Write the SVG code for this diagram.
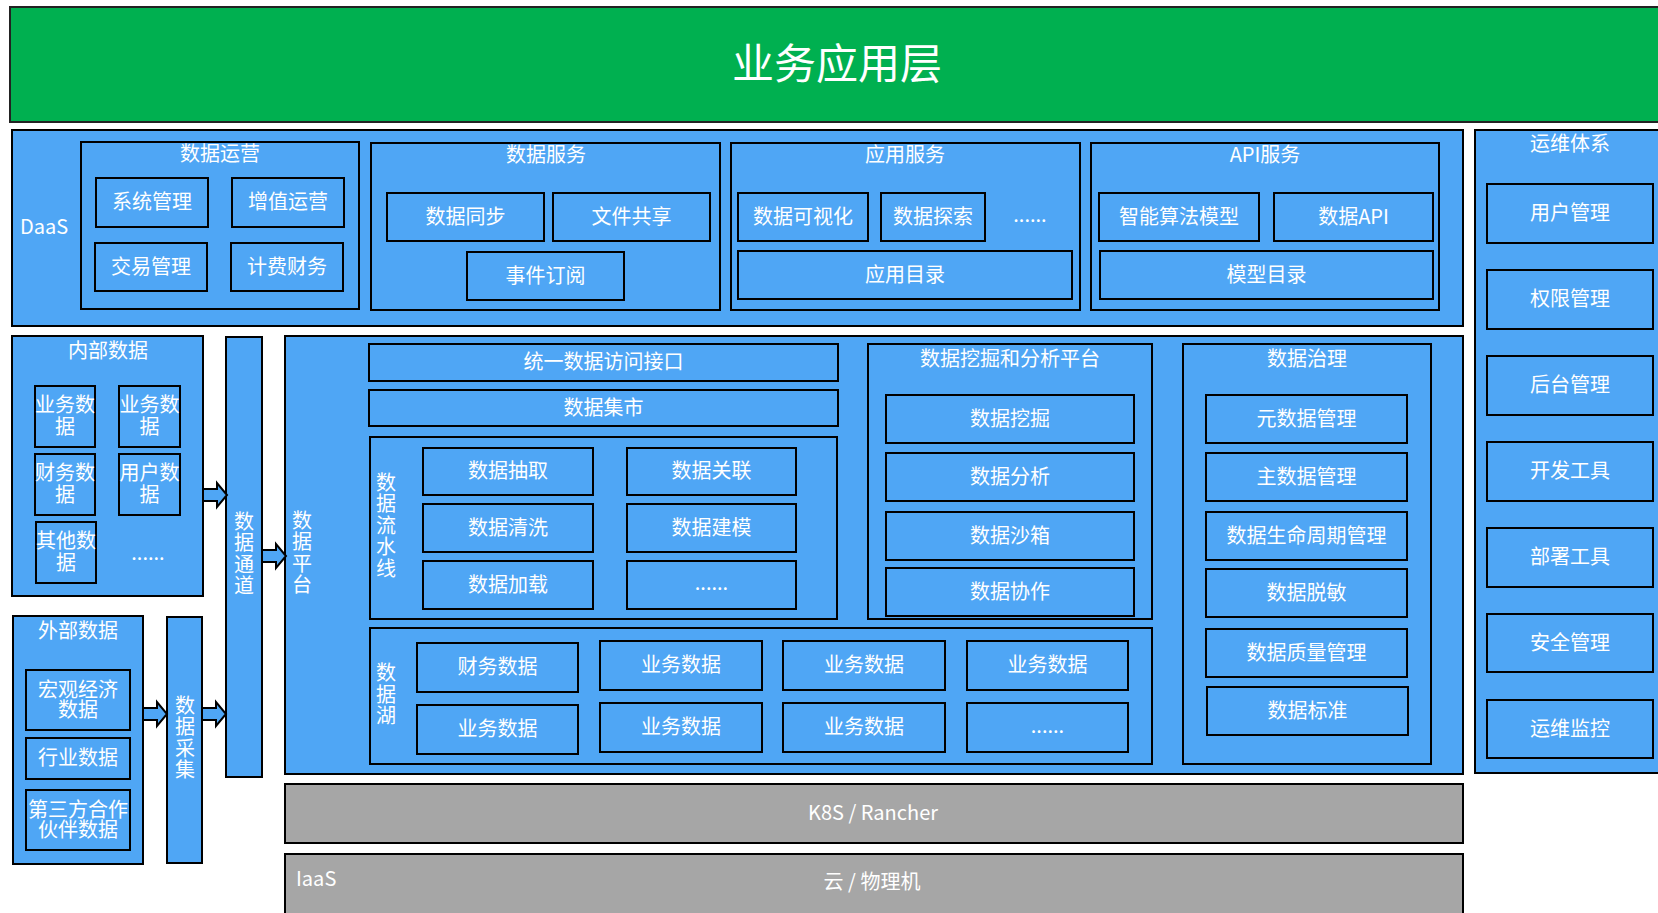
<svg xmlns="http://www.w3.org/2000/svg" width="1658" height="913" viewBox="0 0 1658 913">
<defs>
<style>
.b{fill:#4FA6F5;stroke:#000;stroke-width:2}
.g{fill:#A6A6A6;stroke:#000;stroke-width:2}
.t{fill:#fff;font-family:"Noto Sans CJK SC","Liberation Sans",sans-serif;font-size:20px;text-anchor:middle;dominant-baseline:central}
.l{fill:#fff;font-family:"Noto Sans CJK SC","Liberation Sans",sans-serif;font-size:20px}
.v{fill:#fff;font-family:"Noto Sans CJK SC",sans-serif;font-size:20px;text-anchor:middle;writing-mode:vertical-rl;letter-spacing:1.5px}
.arr{fill:#4FA6F5;stroke:#000;stroke-width:2;stroke-linejoin:miter}
</style>
<path id="arrow" d="M0,-6 H14 V-12 L24,0 L14,12 V6 H0 Z"/>
</defs>
<rect width="1658" height="913" fill="#fff"/>

<g id="app-layer">
<rect x="10" y="7" width="1700" height="115" fill="#00B050" stroke="#222" stroke-width="2"/>
<text x="837" y="60" class="t" style="font-size:42px">业务应用层</text>
</g>

<g id="daas">
<rect class="b" x="12" y="130" width="1451" height="196"/>
<text x="20" y="225" class="l" dominant-baseline="central">DaaS</text>
</g>

<g id="data-ops">
<rect class="b" x="81" y="142" width="278" height="167"/>
<text class="t" x="220" y="152">数据运营</text>
<rect class="b" x="96" y="178" width="112" height="49"/><text class="t" x="152" y="200">系统管理</text>
<rect class="b" x="232" y="178" width="112" height="49"/><text class="t" x="288" y="200">增值运营</text>
<rect class="b" x="95" y="243" width="112" height="48"/><text class="t" x="151" y="265">交易管理</text>
<rect class="b" x="231" y="243" width="112" height="48"/><text class="t" x="287" y="265">计费财务</text>
</g>

<g id="data-service">
<rect class="b" x="371" y="143" width="349" height="167"/>
<text class="t" x="546" y="153">数据服务</text>
<rect class="b" x="387" y="193" width="157" height="48"/><text class="t" x="465.5" y="215">数据同步</text>
<rect class="b" x="553" y="193" width="157" height="48"/><text class="t" x="631.5" y="215">文件共享</text>
<rect class="b" x="467" y="252" width="157" height="48"/><text class="t" x="545.5" y="274">事件订阅</text>
</g>

<g id="app-service">
<rect class="b" x="731" y="143" width="349" height="167"/>
<text class="t" x="905" y="153">应用服务</text>
<rect class="b" x="738" y="193" width="130" height="48"/><text class="t" x="803" y="215">数据可视化</text>
<rect class="b" x="881" y="193" width="104" height="48"/><text class="t" x="933" y="215">数据探索</text>
<text class="l" x="1030" y="222" text-anchor="middle">......</text>
<rect class="b" x="738" y="251" width="334" height="48"/><text class="t" x="905" y="273">应用目录</text>
</g>

<g id="api-service">
<rect class="b" x="1091" y="143" width="348" height="167"/>
<text class="t" x="1265" y="153">API服务</text>
<rect class="b" x="1099" y="193" width="160" height="48"/><text class="t" x="1179" y="215">智能算法模型</text>
<rect class="b" x="1274" y="193" width="159" height="48"/><text class="t" x="1353.5" y="215">数据API</text>
<rect class="b" x="1100" y="251" width="333" height="48"/><text class="t" x="1266.5" y="273">模型目录</text>
</g>

<g id="ops-system">
<rect class="b" x="1475" y="130" width="240" height="643"/>
<text class="t" x="1570" y="142">运维体系</text>
<rect class="b" x="1487" y="184" width="166" height="59"/><text class="t" x="1570" y="211.5">用户管理</text>
<rect class="b" x="1487" y="270" width="166" height="59"/><text class="t" x="1570" y="297.5">权限管理</text>
<rect class="b" x="1487" y="356" width="166" height="59"/><text class="t" x="1570" y="383.5">后台管理</text>
<rect class="b" x="1487" y="442" width="166" height="59"/><text class="t" x="1570" y="469.5">开发工具</text>
<rect class="b" x="1487" y="528" width="166" height="59"/><text class="t" x="1570" y="555.5">部署工具</text>
<rect class="b" x="1487" y="614" width="166" height="58"/><text class="t" x="1570" y="641">安全管理</text>
<rect class="b" x="1487" y="700" width="166" height="58"/><text class="t" x="1570" y="727">运维监控</text>
</g>

<g id="internal-data">
<rect class="b" x="12" y="336" width="191" height="260"/>
<text class="t" x="108" y="349">内部数据</text>
<rect class="b" x="35" y="386" width="60" height="61"/><text class="t" x="65" y="403">业务数<tspan x="65" dy="21.5">据</tspan></text>
<rect class="b" x="119" y="386" width="61" height="61"/><text class="t" x="149.5" y="403">业务数<tspan x="149.5" dy="21.5">据</tspan></text>
<rect class="b" x="35" y="454" width="60" height="61"/><text class="t" x="65" y="471">财务数<tspan x="65" dy="21.5">据</tspan></text>
<rect class="b" x="119" y="454" width="61" height="61"/><text class="t" x="149.5" y="471">用户数<tspan x="149.5" dy="21.5">据</tspan></text>
<rect class="b" x="36" y="522" width="60" height="61"/><text class="t" x="66" y="539">其他数<tspan x="66" dy="21.5">据</tspan></text>
<text class="l" x="148" y="560" text-anchor="middle">......</text>
</g>

<g id="external-data">
<rect class="b" x="13" y="616" width="130" height="248"/>
<text class="t" x="78" y="629">外部数据</text>
<rect class="b" x="26" y="670" width="104" height="60"/><text class="t" x="78" y="688">宏观经济<tspan x="78" dy="20">数据</tspan></text>
<rect class="b" x="26" y="738" width="104" height="41"/><text class="t" x="78" y="756.5">行业数据</text>
<rect class="b" x="26" y="790" width="104" height="60"/><text class="t" x="78" y="808">第三方合作<tspan x="78" dy="20">伙伴数据</tspan></text>
</g>

<g id="data-collect">
<rect class="b" x="167" y="617" width="35" height="246"/>
<text class="v" x="185" y="738">数据采集</text>
</g>

<g id="data-channel">
<rect class="b" x="226" y="337" width="36" height="440"/>
<text class="v" x="244" y="554">数据通道</text>
</g>

<g id="data-platform">
<rect class="b" x="285" y="336" width="1178" height="438"/>
<text class="v" x="302" y="553">数据平台</text>
</g>

<g id="unified-access">
<rect class="b" x="369" y="344" width="469" height="37"/><text class="t" x="603.5" y="360">统一数据访问接口</text>
</g>
<g id="data-mart">
<rect class="b" x="369" y="390" width="469" height="36"/><text class="t" x="603.5" y="406">数据集市</text>
</g>

<g id="pipeline">
<rect class="b" x="370" y="437" width="467" height="182"/>
<text class="v" x="386" y="526">数据流水线</text>
<rect class="b" x="423" y="448" width="170" height="47"/><text class="t" x="508" y="469.5">数据抽取</text>
<rect class="b" x="627" y="448" width="169" height="47"/><text class="t" x="711.5" y="469.5">数据关联</text>
<rect class="b" x="423" y="504" width="170" height="48"/><text class="t" x="508" y="526">数据清洗</text>
<rect class="b" x="627" y="504" width="169" height="48"/><text class="t" x="711.5" y="526">数据建模</text>
<rect class="b" x="423" y="561" width="170" height="48"/><text class="t" x="508" y="583">数据加载</text>
<rect class="b" x="627" y="561" width="169" height="48"/><text class="l" x="711.5" y="590" text-anchor="middle">......</text>
</g>

<g id="mining-platform">
<rect class="b" x="868" y="344" width="284" height="275"/>
<text class="t" x="1010" y="357">数据挖掘和分析平台</text>
<rect class="b" x="886" y="395" width="248" height="48"/><text class="t" x="1010" y="417">数据挖掘</text>
<rect class="b" x="886" y="453" width="248" height="48"/><text class="t" x="1010" y="475">数据分析</text>
<rect class="b" x="886" y="512" width="248" height="48"/><text class="t" x="1010" y="534">数据沙箱</text>
<rect class="b" x="886" y="568" width="248" height="48"/><text class="t" x="1010" y="590">数据协作</text>
</g>

<g id="governance">
<rect class="b" x="1183" y="344" width="248" height="420"/>
<text class="t" x="1307" y="357">数据治理</text>
<rect class="b" x="1206" y="395" width="201" height="48"/><text class="t" x="1306.5" y="417">元数据管理</text>
<rect class="b" x="1206" y="453" width="201" height="48"/><text class="t" x="1306.5" y="475">主数据管理</text>
<rect class="b" x="1206" y="512" width="201" height="48"/><text class="t" x="1306.5" y="534">数据生命周期管理</text>
<rect class="b" x="1206" y="569" width="201" height="48"/><text class="t" x="1306.5" y="591">数据脱敏</text>
<rect class="b" x="1206" y="629" width="201" height="48"/><text class="t" x="1306.5" y="651">数据质量管理</text>
<rect class="b" x="1207" y="687" width="201" height="48"/><text class="t" x="1307.5" y="709">数据标准</text>
</g>

<g id="data-lake">
<rect class="b" x="370" y="628" width="782" height="136"/>
<text class="v" x="386" y="695">数据湖</text>
<rect class="b" x="417" y="643" width="161" height="49"/><text class="t" x="497.5" y="665.5">财务数据</text>
<rect class="b" x="600" y="641" width="162" height="49"/><text class="t" x="681" y="663.5">业务数据</text>
<rect class="b" x="783" y="641" width="162" height="49"/><text class="t" x="864" y="663.5">业务数据</text>
<rect class="b" x="967" y="641" width="161" height="49"/><text class="t" x="1047.5" y="663.5">业务数据</text>
<rect class="b" x="417" y="705" width="161" height="49"/><text class="t" x="497.5" y="727.5">业务数据</text>
<rect class="b" x="600" y="703" width="162" height="49"/><text class="t" x="681" y="725.5">业务数据</text>
<rect class="b" x="783" y="703" width="162" height="49"/><text class="t" x="864" y="725.5">业务数据</text>
<rect class="b" x="967" y="703" width="161" height="49"/><text class="l" x="1047.5" y="733" text-anchor="middle">......</text>
</g>

<g id="k8s">
<rect class="g" x="285" y="784" width="1178" height="59"/>
<text class="t" x="873" y="811">K8S / Rancher</text>
</g>

<g id="iaas">
<rect class="g" x="285" y="854" width="1178" height="62"/>
<text class="l" x="296" y="877" dominant-baseline="central">IaaS</text>
<text class="t" x="872" y="880">云 / 物理机</text>
</g>

<g id="connectors">
<use href="#arrow" class="arr" transform="translate(203,495)"/>
<use href="#arrow" class="arr" transform="translate(262,556)"/>
<use href="#arrow" class="arr" transform="translate(143,714)"/>
<use href="#arrow" class="arr" transform="translate(202,714)"/>
</g>
</svg>
